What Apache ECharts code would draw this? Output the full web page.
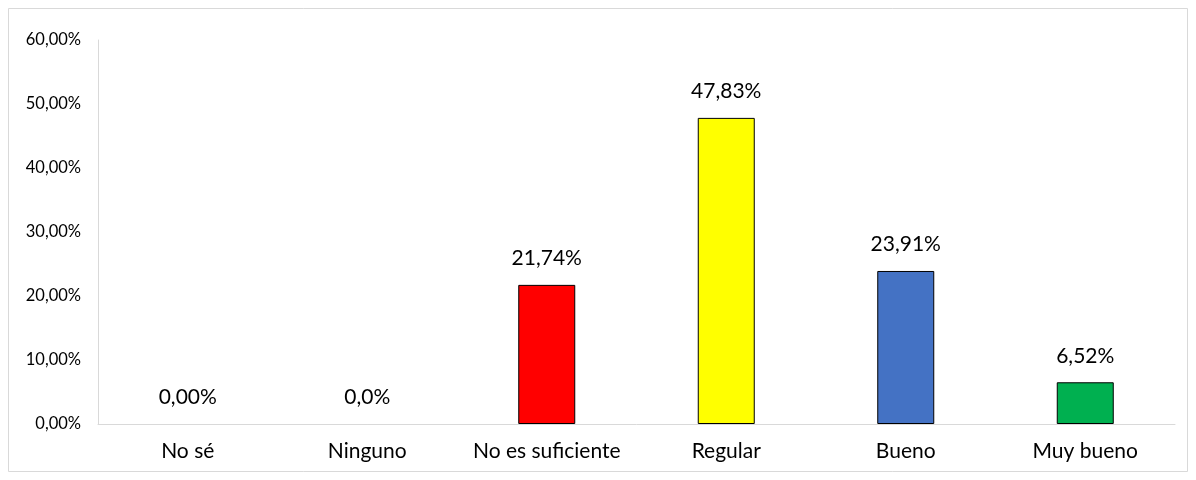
<!DOCTYPE html>
<html>
<head>
<meta charset="utf-8">
<script src="https://cdn.jsdelivr.net/npm/echarts@6/dist/echarts.min.js"></script>
<style>
  html, body { margin: 0; padding: 0; background: #fff; }
  #chart { width: 1196px; height: 480px; }
</style>
</head>
<body>
<div id="chart"></div>
<script>
// Data
const categories = ['No sé', 'Ninguno', 'No es suficiente', 'Regular', 'Bueno', 'Muy bueno'];
const values = [0, 0, 21.74, 47.83, 23.91, 6.52];
const valueLabels = ['0,00%', '0,0%', '21,74%', '47,83%', '23,91%', '6,52%'];
const barColors = ['#FF0000', '#FF0000', '#FF0000', '#FFFF00', '#4472C4', '#00B050'];
const yTicks = [0, 10, 20, 30, 40, 50, 60];

const fontFamily = 'Lato, Open Sans, sans-serif';

const chart = echarts.init(document.getElementById('chart'));

const option = {
    animation: false,
    backgroundColor: '#fff',
    graphic: [
        {
            type: 'rect',
            shape: { x: 8.5, y: 8.5, width: 1179, height: 463 },
            style: { fill: 'none', stroke: '#d9d9d9', lineWidth: 1 }
        }
    ],
    grid: {
        left: 98,
        right: 21,
        top: 40,
        bottom: 56
    },
    xAxis: {
        type: 'category',
        data: categories,
        axisLine: { lineStyle: { color: '#d9d9d9', width: 1 } },
        axisTick: { show: false },
        axisLabel: {
            interval: 0,
            color: '#000',
            fontSize: 21,
            fontFamily: fontFamily,
            margin: 17
        }
    },
    yAxis: {
        type: 'value',
        min: yTicks[0],
        max: yTicks[yTicks.length - 1],
        interval: 10,
        axisLine: { show: true, lineStyle: { color: '#d9d9d9', width: 1 } },
        axisTick: { show: false },
        splitLine: { show: false },
        axisLabel: {
            color: '#000',
            fontSize: 16.5,
            fontFamily: fontFamily,
            margin: 17,
            formatter: v => v.toFixed(2).replace('.', ',') + '%'
        }
    },
    series: [
        {
            type: 'bar',
            barWidth: 57,
            data: values.map((v, i) => ({
                value: v,
                itemStyle: {
                    color: barColors[i],
                    borderWidth: v === 0 ? 0 : 1
                }
            })),
            itemStyle: { borderColor: '#000' },
            label: {
                show: true,
                position: 'top',
                distance: 16,
                color: '#000',
                fontSize: 21,
                fontFamily: fontFamily,
                formatter: p => valueLabels[p.dataIndex]
            }
        }
    ]
};

chart.setOption(option);
</script>
</body>
</html>
